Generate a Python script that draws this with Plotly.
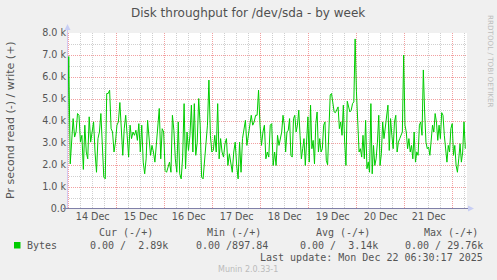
import plotly.graph_objects as go
import pandas as pd

# ---- data (write throughput, in k bytes/s) ----
write_k_a = [2.28, 6.93, 2.05, 3.20, 4.11, 3.27, 3.50, 4.34, 4.26, 3.04, 3.35, 1.80, 3.81, 2.59, 2.28, 4.19,
             3.04, 3.50, 3.96, 2.59, 1.67, 3.20, 3.50, 4.34, 2.74, 1.45, 1.37, 5.25, 5.25, 5.40, 3.65, 3.50,
             2.59, 3.04, 3.81, 3.96, 4.84, 3.81, 2.44, 3.65, 4.26, 3.35, 2.36, 3.81, 3.20, 3.50, 3.35, 3.58,
             3.12, 3.88, 2.59, 3.81, 2.13, 1.60, 2.28, 4.03, 3.04, 2.44, 2.89, 2.59, 2.13, 2.89, 3.73, 4.57,
             2.28, 3.65, 3.50, 1.75, 1.67, 1.90, 2.13, 1.67, 4.26, 3.58, 2.28, 1.67, 3.96, 1.60, 1.37, 2.36,
             4.79, 1.83, 3.50, 2.66, 3.35, 4.72, 2.59, 4.79, 2.44, 3.04, 5.02, 3.81, 1.45, 1.37, 2.28, 3.20,
             3.81, 5.86, 3.35, 2.59, 2.66, 3.35, 2.59, 4.79, 2.28, 3.20, 2.59, 2.36, 2.97, 3.20, 1.98, 2.51,
             2.13, 1.67, 2.59, 3.04, 1.98, 1.37, 3.04, 1.67, 3.20, 3.65, 4.03, 2.89, 3.50, 3.81, 4.26, 3.81,
             3.96, 4.26, 4.26, 5.40, 3.81, 2.89, 3.50, 3.81, 2.28, 2.59, 2.36, 3.81, 3.88, 1.98, 2.59, 1.98,
             3.35, 2.89]
write_k_b = [3.50, 4.26, 3.81, 2.59, 3.50, 3.58, 4.11, 2.44, 2.36, 4.11, 4.26, 3.50, 3.81, 4.49, 3.35, 2.28,
             2.74, 3.20, 1.98, 2.89, 4.19, 2.13, 4.72, 2.74, 3.12, 2.05, 3.88, 4.41, 2.59, 3.20, 2.59, 2.74,
             3.81, 3.96, 2.21, 2.01, 3.50, 5.18, 5.25, 4.87, 4.41, 4.38, 4.49, 4.64, 3.65, 3.96, 3.35, 4.72,
             3.04, 1.98, 4.90, 4.57, 4.41, 4.49, 4.79, 4.87, 7.73, 5.33, 3.96, 2.59, 2.74, 2.36, 3.35, 2.28,
             4.03, 1.83, 2.13, 1.67, 4.79, 1.60, 2.89, 1.98, 2.28, 3.04, 4.26, 1.98, 2.51, 3.96, 3.20, 3.81,
             4.11, 4.72, 2.66, 4.11, 3.35, 2.74, 3.96, 4.26, 2.59, 3.04, 3.20, 3.35, 3.50, 7.00, 3.81, 3.50,
             2.74, 3.20, 2.59, 2.89, 2.28, 3.50, 2.13, 2.59, 2.44, 3.81, 3.96, 3.35, 6.32, 4.41, 3.04, 2.74,
             2.82, 2.44, 3.35, 3.81, 3.50, 4.34, 3.96, 3.12, 3.81, 3.20, 4.38, 4.26, 3.35, 2.74, 2.13, 2.89,
             2.59, 3.65, 3.88, 2.44, 2.89, 1.98, 1.67, 2.28, 2.97, 2.13, 2.59, 3.96, 2.74]
seg_a_start, seg_a_end = "2025-12-13 23:18", "2025-12-18 09:09"
seg_b_start, seg_b_end = "2025-12-18 10:30", "2025-12-22 06:18"
x_range = ["2025-12-13 23:09", "2025-12-22 07:09"]

y_tickvals = [0, 1, 2, 3, 4, 5, 6, 7, 8]
y_ticktext = ["0.0", "1.0 k", "2.0 k", "3.0 k", "4.0 k", "5.0 k", "6.0 k", "7.0 k", "8.0 k"]

title_text = "Disk throughput for /dev/sda - by week"
y_title = "Pr second read (-) / write (+)"
series_name = "Bytes"
legend_headers = ["Cur (-/+)", "Min (-/+)", "Avg (-/+)", "Max (-/+)"]
legend_values = ["0.00 /  2.89k", "0.00 /897.84", "0.00 /  3.14k", "0.00 / 29.76k"]
last_update = "Last update: Mon Dec 22 06:30:17 2025"
version_text = "Munin 2.0.33-1"
rrd_text = "RRDTOOL / TOBI OETIKER"

# ---- geometry ----
W, H = 497, 280
L, R, T, B = 67, 30, 33, 71
PW, PH = W - L - R, H - T - B


def px(x):
    return (x - L) / PW


def py(y):
    return (H - B - y) / PH


times_a = pd.date_range(seg_a_start, seg_a_end, periods=len(write_k_a))
times_b = pd.date_range(seg_b_start, seg_b_end, periods=len(write_k_b))
times = list(times_a) + list(times_b)
vals = write_k_a + write_k_b

GREEN = "#00CC00"
TXT = "#555555"
SANS = "DejaVu Sans"
MONO = "DejaVu Sans Mono"
MAJ = "#F2A0A0"
MIN = "#CFCFCF"
DASH = "1px,1px"

fig = go.Figure()
fig.add_trace(go.Scatter(x=times, y=vals, mode="lines",
                         line=dict(color=GREEN, width=1), hoverinfo="skip"))

fig.update_layout(
    width=W, height=H,
    margin=dict(l=L, r=R, t=T, b=B, pad=0),
    paper_bgcolor="#F0F0F0", plot_bgcolor="#FFFFFF",
    showlegend=False,
    font=dict(family=SANS, color=TXT, size=10),
    xaxis=dict(
        type="date", range=x_range, dtick=86400000, tick0="2025-12-14",
        ticklabelmode="period", tickformat="%d %b",
        showgrid=True, gridcolor=MAJ, griddash=DASH, gridwidth=1,
        minor=dict(dtick=6 * 3600000, showgrid=True, gridcolor=MIN, griddash=DASH),
        showline=False, zeroline=False, ticks="",
        tickfont=dict(family=SANS, size=9.6, color=TXT),
        fixedrange=True,
    ),
    yaxis=dict(
        range=[0, 8], tickvals=y_tickvals, ticktext=y_ticktext,
        showgrid=True, gridcolor=MAJ, griddash=DASH, gridwidth=1,
        minor=dict(dtick=0.5, showgrid=True, gridcolor=MIN, griddash=DASH),
        showline=False, zeroline=False, ticks="",
        tickfont=dict(family=SANS, size=9.6, color=TXT),
        fixedrange=True,
    ),
)

shapes = []
# y axis line + arrow
shapes.append(dict(type="line", xref="paper", yref="paper", x0=px(67.5), x1=px(67.5),
                   y0=py(209), y1=py(28), line=dict(color="#D4C8F0", width=1)))
shapes.append(dict(type="path", xref="paper", yref="paper",
                   path=f"M {px(64.5)} {py(30)} L {px(70.5)} {py(30)} L {px(67.5)} {py(24)} Z",
                   fillcolor="#C8CEF4", line=dict(width=0)))
# x axis line + arrow
shapes.append(dict(type="line", xref="paper", yref="paper", x0=px(63), x1=px(470),
                   y0=py(208.5), y1=py(208.5), line=dict(color="#8080A8", width=1)))
shapes.append(dict(type="path", xref="paper", yref="paper",
                   path=f"M {px(468)} {py(205.5)} L {px(468)} {py(211.5)} L {px(474)} {py(208.5)} Z",
                   fillcolor="#C8CEF4", line=dict(width=0)))
# legend swatch
shapes.append(dict(type="rect", xref="paper", yref="paper", x0=px(14), x1=px(20.5),
                   y0=py(248.5), y1=py(242), fillcolor=GREEN, line=dict(width=0)))
fig.update_layout(shapes=shapes)

ann = []


def add_text(text, x, y, size, family=SANS, color=TXT, xanchor="left", angle=0):
    ann.append(dict(text=text.replace(" ", "\u00a0"), x=px(x), y=py(y), xref="paper", yref="paper",
                    xanchor=xanchor, yanchor="middle", showarrow=False, textangle=angle,
                    font=dict(family=family, size=size, color=color), borderpad=0))


add_text(title_text, 248, 13, 12, xanchor="center", color="#505050")
add_text(y_title, 11, 120, 11, xanchor="center", angle=-90)
add_text(rrd_text, 490, 61, 7.2, xanchor="center", angle=90, color="#BDBDBD")
add_text(series_name, 26, 245.5, 10, family=MONO)
for h, xl in zip(legend_headers, [98, 206, 314.5, 422.5]):
    add_text(h, xl, 232, 10, family=MONO)
for v, xl in zip(legend_values, [88.5, 194.5, 298.5, 403.5]):
    add_text(v, xl, 245.5, 10, family=MONO)
add_text(last_update, 483.5, 257.5, 10, family=MONO, xanchor="right")
add_text(version_text, 248, 269, 8, xanchor="center", color="#BBBBBB")
fig.update_layout(annotations=ann)

fig.write_html("out.html")
